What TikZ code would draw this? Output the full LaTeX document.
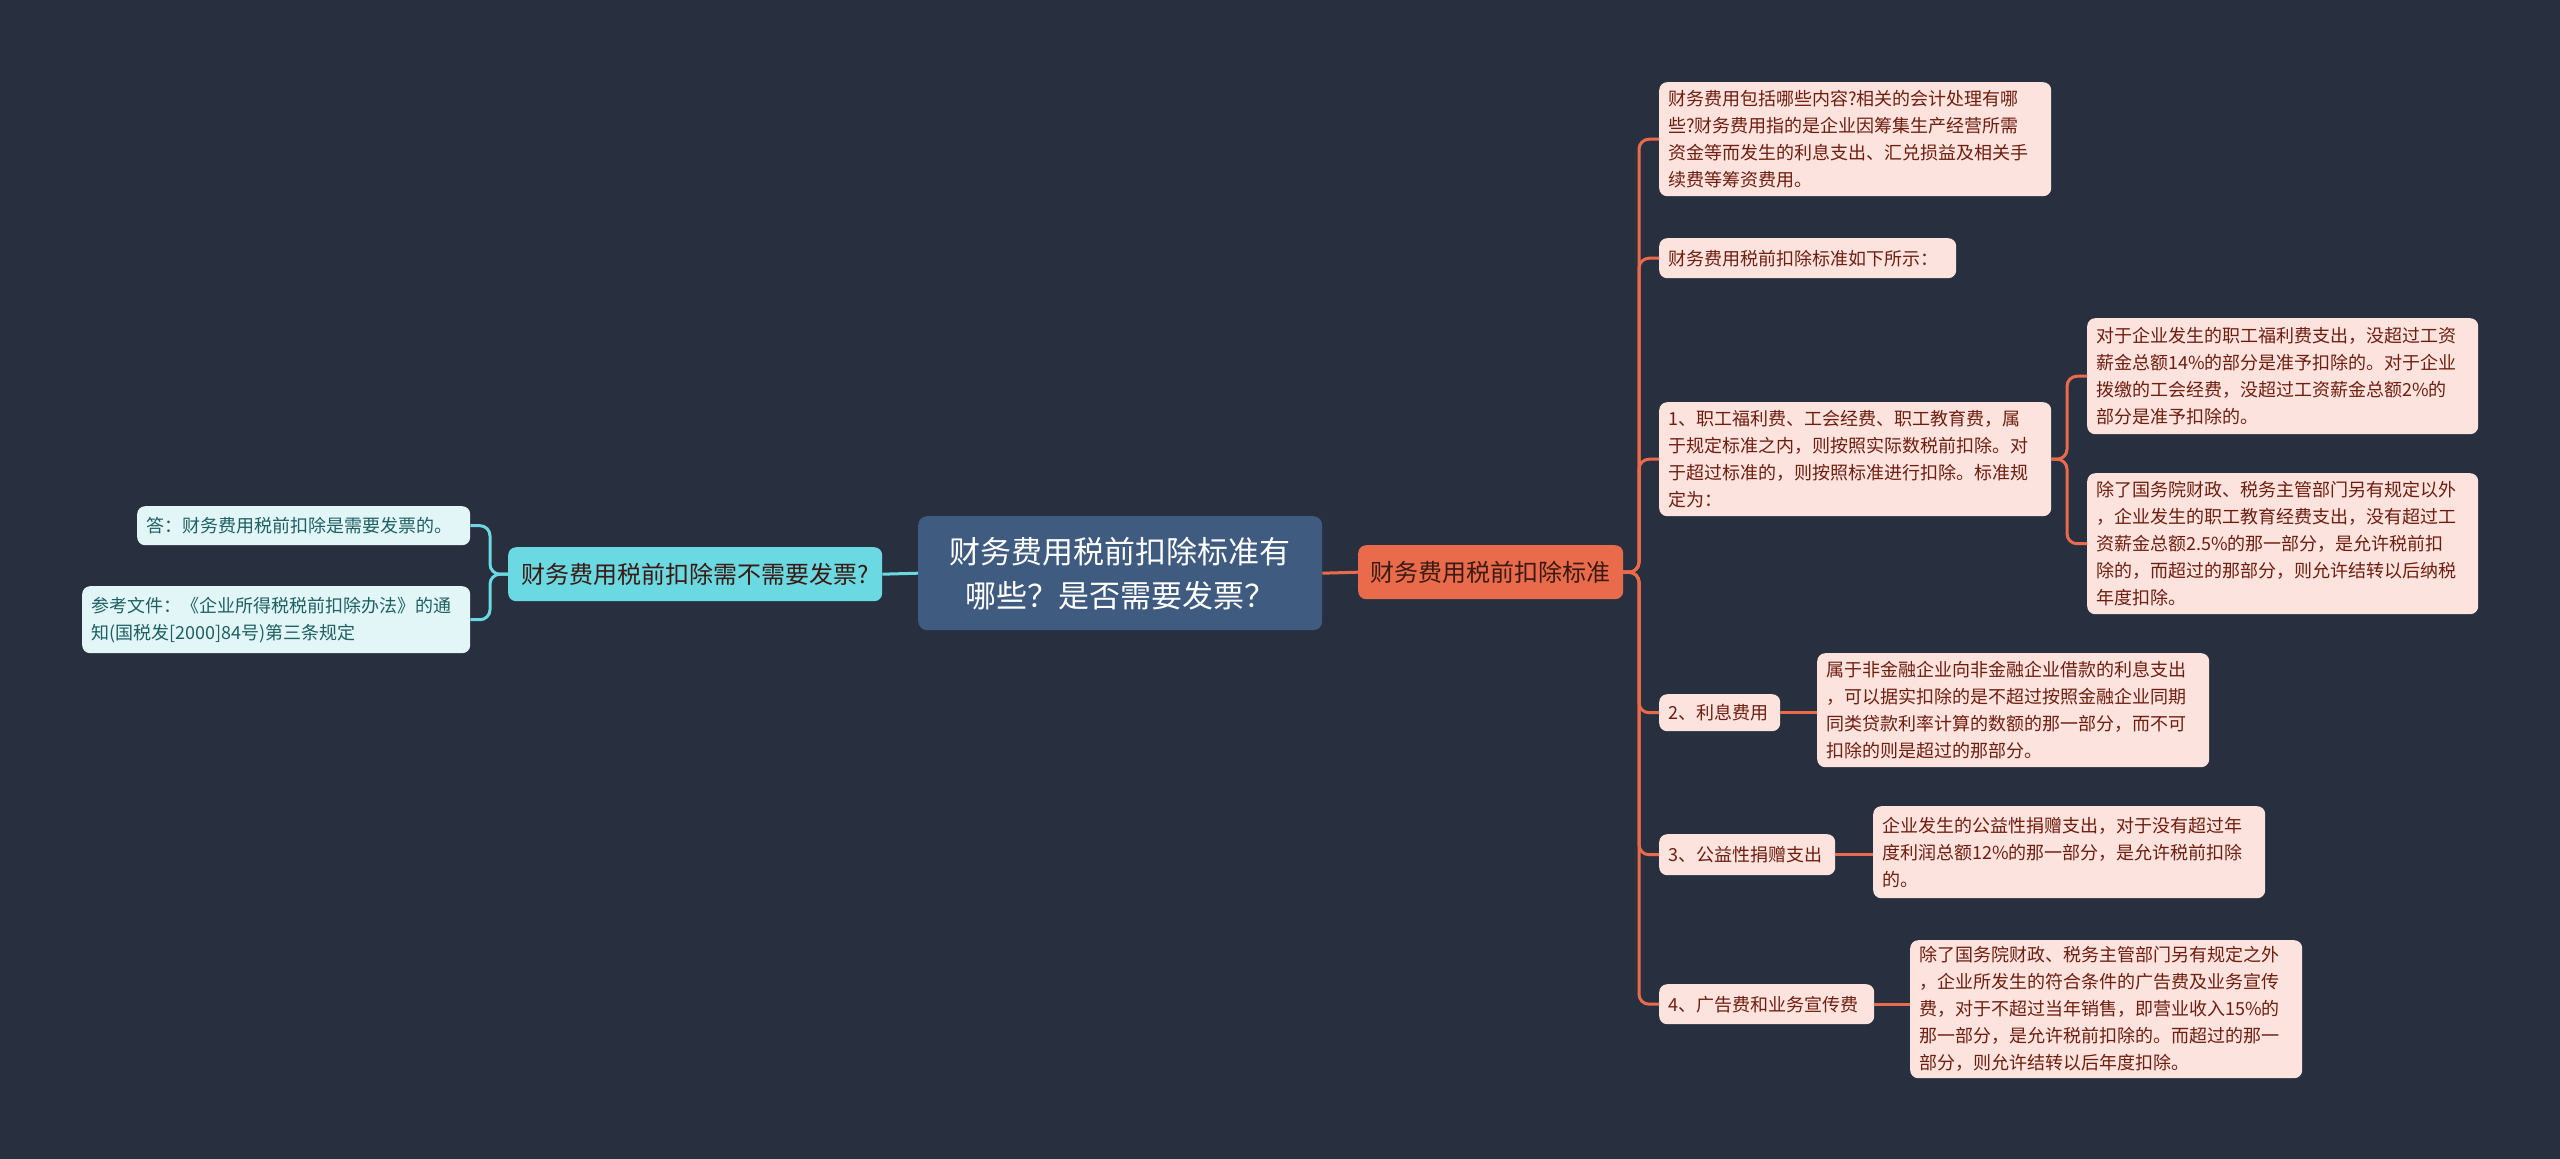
\documentclass[tikz,border=0pt]{standalone}
\usepackage{fontspec}
\setmainfont{Noto Sans CJK SC}
\definecolor{bg}{HTML}{283040}
\definecolor{rootfill}{HTML}{3F5B7F}
\definecolor{orangefill}{HTML}{E96B4C}
\definecolor{cyanfill}{HTML}{6AD9E2}
\definecolor{pinkfill}{HTML}{FCE3DD}
\definecolor{pinktext}{HTML}{6E1E10}
\definecolor{lcyanfill}{HTML}{E2F6F7}
\definecolor{tealtext}{HTML}{1E5F63}
\definecolor{darktext}{HTML}{3A1A12}
\begin{document}
\begin{tikzpicture}[x=1pt,y=-1pt,
  box/.style={anchor=north west, rounded corners=8pt, inner xsep=9pt, inner ysep=4pt, align=left},
  rleaf/.style={box, fill=pinkfill, text=pinktext, font=\fontsize{18}{27}\selectfont},
  lleaf/.style={box, fill=lcyanfill, text=tealtext, font=\fontsize{18}{27}\selectfont},
  rconn/.style={draw=orangefill, line width=3pt, rounded corners=10pt},
  lconn/.style={draw=cyanfill, line width=3pt, rounded corners=10pt}]
\useasboundingbox (0,0) rectangle (2560,1159);
\fill[bg] (0,0) rectangle (2560,1159);

% root
\node[anchor=north west, fill=rootfill, text=white, rounded corners=9pt, minimum width=404pt, minimum height=114pt, align=center, font=\fontsize{31}{44}\selectfont] (root) at (918,516) {财务费用税前扣除标准有\\哪些？是否需要发票？};

% main branches
\node[anchor=north west, fill=orangefill, text=darktext, rounded corners=8pt, minimum width=265pt, minimum height=54pt, font=\fontsize{24}{30}\selectfont] (rmain) at (1358,545) {财务费用税前扣除标准};
\node[anchor=north west, fill=cyanfill, text=darktext, rounded corners=8pt, minimum width=374pt, minimum height=54pt, font=\fontsize{24}{30}\selectfont] (lmain) at (508,547) {财务费用税前扣除需不需要发票?};

% left leaves
\node[lleaf, text width=315pt, minimum height=39pt] (l1) at (137,506) {答：财务费用税前扣除是需要发票的。};
\node[lleaf, text width=370pt, minimum height=67pt] (l2) at (82,586) {参考文件：《企业所得税税前扣除办法》的通\\知(国税发[2000]84号)第三条规定};

% right leaves
\node[rleaf, text width=374pt, minimum height=114pt] (r1) at (1659,82) {财务费用包括哪些内容?相关的会计处理有哪\\些?财务费用指的是企业因筹集生产经营所需\\资金等而发生的利息支出、汇兑损益及相关手\\续费等筹资费用。};
\node[rleaf, text width=279pt, minimum height=40pt] (r2) at (1659,238) {财务费用税前扣除标准如下所示：};
\node[rleaf, text width=374pt, minimum height=114pt] (r3) at (1659,402) {1、职工福利费、工会经费、职工教育费，属\\于规定标准之内，则按照实际数税前扣除。对\\于超过标准的，则按照标准进行扣除。标准规\\定为：};
\node[rleaf, text width=373pt, minimum height=116pt] (r3a) at (2087,318) {对于企业发生的职工福利费支出，没超过工资\\薪金总额14\%的部分是准予扣除的。对于企业\\拨缴的工会经费，没超过工资薪金总额2\%的\\部分是准予扣除的。};
\node[rleaf, text width=373pt, minimum height=141pt] (r3b) at (2087,473) {除了国务院财政、税务主管部门另有规定以外\\，企业发生的职工教育经费支出，没有超过工\\资薪金总额2.5\%的那一部分，是允许税前扣\\除的，而超过的那部分，则允许结转以后纳税\\年度扣除。};
\node[rleaf, text width=103pt, minimum height=37pt] (r4) at (1659,694) {2、利息费用};
\node[rleaf, text width=374pt, minimum height=114pt] (r4a) at (1817,653) {属于非金融企业向非金融企业借款的利息支出\\，可以据实扣除的是不超过按照金融企业同期\\同类贷款利率计算的数额的那一部分，而不可\\扣除的则是超过的那部分。};
\node[rleaf, text width=158pt, minimum height=41pt] (r5) at (1659,834) {3、公益性捐赠支出};
\node[rleaf, text width=374pt, minimum height=92pt] (r5a) at (1873,806) {企业发生的公益性捐赠支出，对于没有超过年\\度利润总额12\%的那一部分，是允许税前扣除\\的。};
\node[rleaf, text width=197pt, minimum height=40pt] (r6) at (1659,984) {4、广告费和业务宣传费};
\node[rleaf, text width=374pt, minimum height=138pt] (r6a) at (1910,940) {除了国务院财政、税务主管部门另有规定之外\\，企业所发生的符合条件的广告费及业务宣传\\费，对于不超过当年销售，即营业收入15\%的\\那一部分，是允许税前扣除的。而超过的那一\\部分，则允许结转以后年度扣除。};

% spine coordinates
\coordinate (sr) at (1639,0);
\coordinate (sr3) at (2067,0);
\coordinate (sl) at (490,0);

% connectors
\draw[rconn] (root.east) -- (rmain.west);
\draw[lconn] (root.west) -- (lmain.east);
\foreach \c in {r1,r2,r3,r4,r5,r6}
  \draw[rconn] (rmain.east) -- (sr |- rmain.east) |- (\c.west);
\foreach \c in {r3a,r3b}
  \draw[rconn] (r3.east) -- (sr3 |- r3.east) |- (\c.west);
\draw[rconn] (r4.east) -- (r4.east -| r4a.west);
\draw[rconn] (r5.east) -- (r5.east -| r5a.west);
\draw[rconn] (r6.east) -- (r6.east -| r6a.west);
\foreach \c in {l1,l2}
  \draw[lconn] (lmain.west) -- (sl |- lmain.west) |- (\c.east);
\end{tikzpicture}
\end{document}
